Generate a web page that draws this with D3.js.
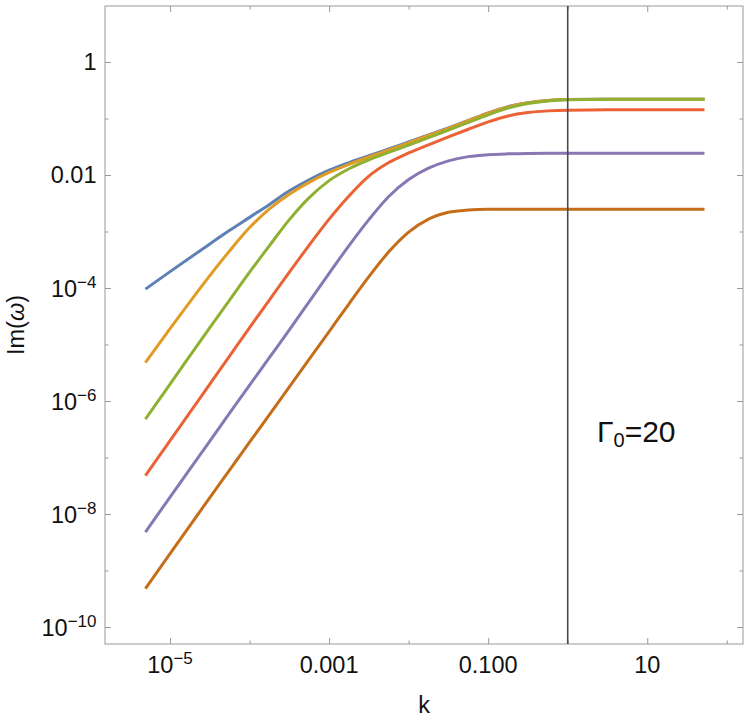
<!DOCTYPE html>
<html>
<head>
<meta charset="utf-8">
<script src="https://cdn.jsdelivr.net/npm/d3@7"></script>
<style>
  body { margin: 0; background: #fff; }
  text { font-family: "Liberation Sans", Arial, sans-serif; fill: #111; }
</style>
</head>
<body>
<div id="chart"></div>
<script>
// k sample points and Im(w) per curve, both as log10 values
const logK = [-5.31, -5, -4.5, -4.25, -4, -3.75, -3.5, -3.25, -3, -2.75, -2.5, -2.25,
  -2, -1.75, -1.5, -1.25, -1, -0.75, -0.5, -0.25, 0, 0.5, 1, 1.72];

const imBlue = [-4.02, -3.71, -3.22, -2.98, -2.75, -2.52, -2.28, -2.085, -1.915, -1.78, -1.66, -1.54,
  -1.415, -1.29, -1.165, -1.035, -0.90, -0.79, -0.72, -0.68, -0.665, -0.66, -0.66, -0.66];
const imOrange = [-5.32, -4.72, -3.78, -3.34, -2.93, -2.60, -2.34, -2.13, -1.955, -1.81, -1.68, -1.556,
  -1.43, -1.30, -1.175, -1.04, -0.905, -0.795, -0.722, -0.682, -0.665, -0.66, -0.66, -0.66];
const imGreen = [-6.32, -5.70, -4.70, -4.21, -3.72, -3.25, -2.79, -2.40, -2.10, -1.89, -1.73, -1.60,
  -1.47, -1.34, -1.205, -1.07, -0.935, -0.815, -0.735, -0.69, -0.67, -0.66, -0.66, -0.66];
const imRed = [-7.32, -6.70, -5.70, -5.20, -4.70, -4.21, -3.72, -3.24, -2.78, -2.37, -2.02, -1.78,
  -1.61, -1.465, -1.325, -1.19, -1.06, -0.955, -0.895, -0.865, -0.852, -0.846, -0.845, -0.845];
const imPurple = [-8.32, -7.70, -6.71, -6.21, -5.72, -5.23, -4.74, -4.24, -3.74, -3.25, -2.79, -2.38,
  -2.08, -1.88, -1.75, -1.675, -1.64, -1.625, -1.618, -1.616, -1.615, -1.615, -1.615, -1.615];
const imBrown = [-9.32, -8.70, -7.71, -7.22, -6.73, -6.24, -5.75, -5.26, -4.77, -4.28, -3.80, -3.36,
  -3.01, -2.78, -2.66, -2.62, -2.608, -2.607, -2.607, -2.607, -2.607, -2.607, -2.607, -2.607];

const seriesList = [imBlue, imOrange, imGreen, imRed, imPurple, imBrown];
const colors = ["#5e81b5", "#e19c24", "#8fb032", "#eb6235", "#8778b3", "#c56e1a"];

const xDomain = [1.52e-6, 160];
const yDomain = [5.0e-11, 9.8];
const markerK = 1;

const xTicks = [1e-5, 1e-4, 1e-3, 1e-2, 0.1, 1, 10, 100];
const xLabels = [{ b: "10", e: "\u22125" }, null, { b: "0.001" }, null, { b: "0.100" }, null, { b: "10" }, null];
const yTicks = [1e-10, 1e-9, 1e-8, 1e-7, 1e-6, 1e-5, 1e-4, 1e-3, 0.01, 0.1, 1];
const yLabels = [{ b: "10", e: "\u221210" }, null, { b: "10", e: "\u22128" }, null, { b: "10", e: "\u22126" }, null,
  { b: "10", e: "\u22124" }, null, { b: "0.01" }, null, { b: "1" }];

const margin = { top: 6, right: 7, bottom: 77, left: 105 };
const width = 750 - margin.left - margin.right;
const height = 721 - margin.top - margin.bottom;

const svg = d3.select("#chart")
  .append("svg")
  .attr("width", 750)
  .attr("height", 721)
  .append("g")
  .attr("transform", `translate(${margin.left},${margin.top})`);

const x = d3.scaleLog().domain(xDomain).range([0, width]);
const y = d3.scaleLog().domain(yDomain).range([height, 0]);

const frameColor = "#999";

// frame ticks on all four sides, pointing inward
function tickAxis(axis, values, labels, transform) {
  const g = svg.append("g")
    .attr("transform", transform)
    .call(axis.tickValues(values).tickFormat("").tickSizeOuter(0));
  g.select(".domain").remove();
  g.selectAll(".tick line")
    .attr("stroke", frameColor)
    .each(function (d, i) {
      const len = labels[i] ? 6 : 3.5;
      const line = d3.select(this);
      if (line.attr("x2") !== null && +line.attr("x2") !== 0) line.attr("x2", Math.sign(+line.attr("x2")) * len);
      if (line.attr("y2") !== null && +line.attr("y2") !== 0) line.attr("y2", Math.sign(+line.attr("y2")) * len);
    });
  return g;
}

tickAxis(d3.axisBottom(x).tickSize(-6), xTicks, xLabels, `translate(0,${height})`);
tickAxis(d3.axisTop(x).tickSize(-6), xTicks, xLabels, "translate(0,0)");
tickAxis(d3.axisLeft(y).tickSize(-6), yTicks, yLabels, "translate(0,0)");
tickAxis(d3.axisRight(y).tickSize(-6), yTicks, yLabels, `translate(${width},0)`);

svg.append("rect")
  .attr("width", width)
  .attr("height", height)
  .attr("fill", "none")
  .attr("stroke", frameColor)
  .attr("stroke-width", 1);

// tick labels
function addLabel(sel, lab) {
  sel.append("tspan").text(lab.b);
  if (lab.e) {
    sel.append("tspan")
      .attr("font-size", 17)
      .attr("dy", -9)
      .text(lab.e);
  }
}

xTicks.forEach((v, i) => {
  if (!xLabels[i]) return;
  const t = svg.append("text")
    .attr("x", x(v))
    .attr("y", height + 29)
    .attr("text-anchor", "middle")
    .attr("font-size", 23.5);
  addLabel(t, xLabels[i]);
});

yTicks.forEach((v, i) => {
  if (!yLabels[i]) return;
  const t = svg.append("text")
    .attr("x", -8.5)
    .attr("y", y(v) + (yLabels[i].e ? 9.5 : 8.3))
    .attr("text-anchor", "end")
    .attr("font-size", 23.5);
  addLabel(t, yLabels[i]);
});

// axis titles
svg.append("text")
  .attr("x", width / 2)
  .attr("y", height + 69)
  .attr("text-anchor", "middle")
  .attr("font-size", 23.5)
  .text("k");

const yTitle = svg.append("text")
  .attr("transform", `translate(${23.5 - margin.left},${height / 2}) rotate(-90)`)
  .attr("text-anchor", "middle")
  .attr("font-size", 23.5);
yTitle.append("tspan").text("Im(");
yTitle.append("tspan").attr("font-style", "italic").text("\u03c9");
yTitle.append("tspan").text(")");

// curves
const line = d3.line()
  .x(d => x(d[0]))
  .y(d => y(d[1]))
  .curve(d3.curveMonotoneX);

seriesList.forEach((vals, i) => {
  const pts = logK.map((lk, j) => [Math.pow(10, lk), Math.pow(10, vals[j])]);
  svg.append("path")
    .datum(pts)
    .attr("fill", "none")
    .attr("stroke", colors[i])
    .attr("stroke-width", 3)
    .attr("stroke-linejoin", "round")
    .attr("d", line);
});

// vertical marker at k = 1
svg.append("line")
  .attr("x1", x(markerK))
  .attr("x2", x(markerK))
  .attr("y1", 0)
  .attr("y2", height)
  .attr("stroke", "#4a4a4a")
  .attr("stroke-width", 1.6);

// annotation
const note = svg.append("text")
  .attr("x", 597 - margin.left)
  .attr("y", 441.7 - margin.top)
  .attr("font-size", 30);
note.append("tspan").text("\u0393");
note.append("tspan").attr("font-size", 20).attr("dy", 5).text("0");
note.append("tspan").attr("dy", -5).text("=20");
</script>
</body>
</html>
